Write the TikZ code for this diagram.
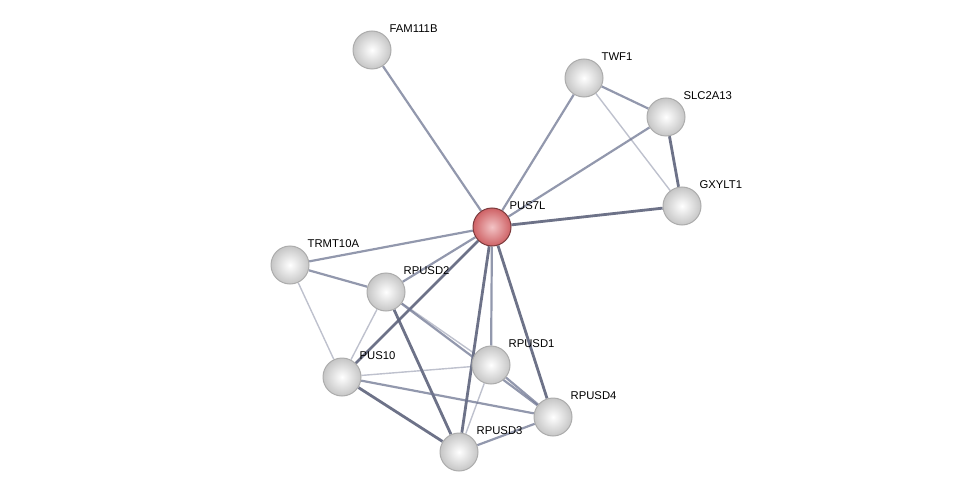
\documentclass[tikz,border=0pt]{standalone}
\usepackage{fontspec}
\setmainfont{Liberation Sans}
\usetikzlibrary{backgrounds}
\definecolor{edgec}{HTML}{6E7591}
\definecolor{protr}{HTML}{E06A6E}

\begin{document}
\begin{tikzpicture}[
  x=1pt, y=-1pt,
  font=\fontsize{11.3}{13}\selectfont,
  prot/.style={circle, minimum size=38pt, inner sep=0pt, inner color=white, outer color=gray!45, draw=gray!65, line width=1pt},
  hub/.style={prot, inner color=protr!40!white, outer color=protr!92!black, draw=protr!55!black},
  lbl/.style={inner sep=1.5pt, label distance=3pt},
  edge/.style={draw=edgec, line width=2.2pt, opacity=0.75},
  edgeL/.style={draw=edgec, line width=1.4pt, opacity=0.45},
  edgeD/.style={draw=edgec!85!black, line width=2.8pt, opacity=0.9}
]
\useasboundingbox (0,0) rectangle (976,497);

\node[prot, label={[lbl]above right:FAM111B}] (fam) at (372,50) {};
\node[prot, label={[lbl]above right:TWF1}] (twf) at (584,78) {};
\node[prot, label={[lbl]above right:SLC2A13}] (slc) at (666,117) {};
\node[prot, label={[lbl]above right:GXYLT1}] (gxy) at (682,206) {};
\node[hub, label={[lbl]above right:PUS7L}] (pus7l) at (492,227) {};
\node[prot, label={[lbl]above right:TRMT10A}] (trmt) at (290,265) {};
\node[prot, label={[lbl]above right:RPUSD2}] (rp2) at (386,292) {};
\node[prot, label={[lbl]above right:PUS10}] (pus10) at (342,377) {};
\node[prot, label={[lbl]above right:RPUSD1}] (rp1) at (491,365) {};
\node[prot, label={[lbl]above right:RPUSD4}] (rp4) at (553,417) {};
\node[prot, label={[lbl]above right:RPUSD3}] (rp3) at (459,452) {};

\begin{pgfonlayer}{background}
\draw[edge] (fam) -- (pus7l);
\draw[edge] (twf) -- (pus7l);
\draw[edge] (twf) -- (slc);
\draw[edgeL] (twf) -- (gxy);
\draw[edge] (slc) -- (pus7l);
\draw[edgeD] (slc) -- (gxy);
\draw[edgeD] (gxy) -- (pus7l);
\draw[edge] (pus7l) -- (trmt);
\draw[edge] (pus7l) -- (rp2);
\draw[edgeD] (pus7l) -- (pus10);
\draw[edge] (pus7l) -- (rp1);
\draw[edgeD] (pus7l) -- (rp3);
\draw[edgeD] (pus7l) -- (rp4);
\draw[edge] (trmt) -- (rp2);
\draw[edgeL] (trmt) -- (pus10);
\draw[edgeL] (rp2) -- (pus10);
\draw[edgeD] (rp2) -- (rp3);
\draw[edgeL] (rp2) -- (rp1);
\draw[edge] (rp2) -- (rp4);
\draw[edgeL] (pus10) -- (rp1);
\draw[edge] (pus10) -- (rp4);
\draw[edgeD] (pus10) -- (rp3);
\draw[edgeL] (rp1) -- (rp3);
\draw[edge] (rp1) -- (rp4);
\draw[edge] (rp3) -- (rp4);
\end{pgfonlayer}
\end{tikzpicture}
\end{document}
